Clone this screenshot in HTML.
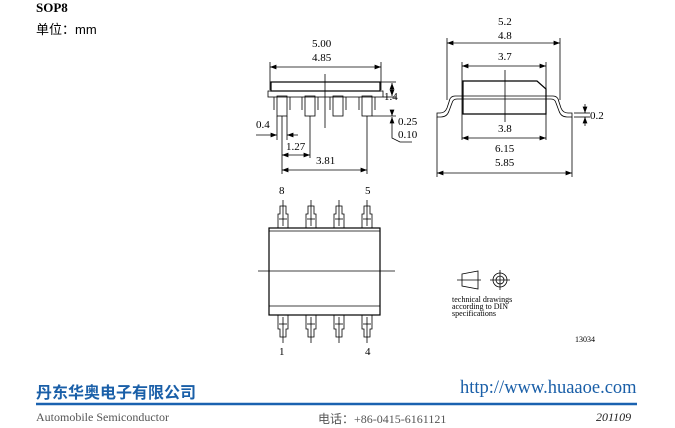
<!DOCTYPE html>
<html><head><meta charset="utf-8"><style>
body{margin:0;background:#fff;width:675px;height:428px;overflow:hidden;position:relative;font-family:"Liberation Serif","Noto Serif CJK SC",serif}
.t{position:absolute;white-space:nowrap}
</style></head><body>
<div class="t" style="left:36px;top:0px;font-size:13px;font-weight:bold">SOP8</div>
<div class="t" style="left:36px;top:19px;font-size:13px;font-family:'Liberation Sans','Noto Sans CJK SC',sans-serif">单位：mm</div>
<svg width="675" height="428" style="position:absolute;left:0;top:0" font-family="Liberation Serif, serif" font-size="11" fill="none" stroke="#000" stroke-width="1">
<defs><marker id="a" markerWidth="8" markerHeight="6" refX="8" refY="3" orient="auto-start-reverse"><path d="M0,0 L8,3 L0,6z" fill="#000" stroke="none"/></marker></defs>
<g stroke-width="0.8">
<line x1="270" y1="62" x2="270" y2="90"/><line x1="381" y1="62" x2="381" y2="90"/>
<line x1="270" y1="67" x2="381" y2="67" marker-start="url(#a)" marker-end="url(#a)"/>
<rect x="271" y="82" width="109" height="9" stroke-width="1.2"/>
<rect x="268" y="91" width="115" height="6"/>
<g id="ld"><rect x="277" y="96" width="10" height="20"/><line x1="274" y1="97" x2="274" y2="110"/><line x1="290" y1="97" x2="290" y2="110"/></g>
<use href="#ld" x="28"/><use href="#ld" x="56"/><use href="#ld" x="85"/>
<line x1="325" y1="74" x2="325" y2="128"/>
<line x1="380" y1="82" x2="396" y2="82"/><line x1="383" y1="97" x2="396" y2="97"/>
<line x1="392" y1="83" x2="392" y2="96" marker-start="url(#a)" marker-end="url(#a)"/>
<line x1="372" y1="116" x2="396" y2="116"/>
<line x1="392" y1="111" x2="392" y2="116" marker-end="url(#a)"/><line x1="392" y1="122" x2="392" y2="117" marker-end="url(#a)"/>
<polyline points="392,122 392,138 400,142 412,142"/>
<line x1="277" y1="116" x2="277" y2="140"/><line x1="287" y1="116" x2="287" y2="140"/>
<line x1="256" y1="135" x2="277" y2="135" marker-end="url(#a)"/><line x1="298" y1="135" x2="287" y2="135" marker-end="url(#a)"/>
<line x1="282" y1="116" x2="282" y2="174"/><line x1="310" y1="116" x2="310" y2="158"/><line x1="367" y1="116" x2="367" y2="174"/>
<line x1="282" y1="155" x2="310" y2="155" marker-start="url(#a)" marker-end="url(#a)"/>
<line x1="282" y1="170" x2="367" y2="170" marker-start="url(#a)" marker-end="url(#a)"/>
</g>
<g fill="#000" stroke="none" font-size="11">
<text x="312" y="47">5.00</text><text x="312" y="61">4.85</text>
<text x="384" y="100">1.4</text><text x="398" y="125">0.25</text><text x="398" y="138">0.10</text>
<text x="256" y="128">0.4</text><text x="286" y="150">1.27</text><text x="316" y="164">3.81</text>
</g>
<g stroke-width="0.8">
<line x1="447" y1="38" x2="447" y2="100"/><line x1="560" y1="38" x2="560" y2="100"/>
<line x1="447" y1="43" x2="560" y2="43" marker-start="url(#a)" marker-end="url(#a)"/>
<line x1="462" y1="62" x2="462" y2="140"/><line x1="546" y1="62" x2="546" y2="140"/>
<line x1="462" y1="66" x2="546" y2="66" marker-start="url(#a)" marker-end="url(#a)"/>
<path d="M463,81 L537,81 L546,89 L546,114 L463,114 Z" stroke-width="1.2"/>
<line x1="462" y1="96" x2="546" y2="96"/><line x1="462" y1="99" x2="546" y2="99"/>
<path d="M462,96 L455,96 Q450,96 449,102 L447,108 Q445,113 440,113 L437,113 L437,117 L441,117 Q447,117 449,111 L452,103 Q453,99 457,99 L462,99"/>
<path d="M546,96 L553,96 Q558,96 559,102 L561,108 Q563,113 568,113 L572,113 L572,117 L567,117 Q561,117 559,111 L556,103 Q555,99 551,99 L546,99"/>
<line x1="505" y1="70" x2="505" y2="122"/>
<line x1="462" y1="138" x2="546" y2="138" marker-start="url(#a)" marker-end="url(#a)"/>
<line x1="437" y1="117" x2="437" y2="177"/><line x1="572" y1="117" x2="572" y2="177"/>
<line x1="437" y1="173" x2="572" y2="173" marker-start="url(#a)" marker-end="url(#a)"/>
<line x1="574" y1="113" x2="590" y2="113"/><line x1="574" y1="117" x2="590" y2="117"/>
<line x1="585" y1="104" x2="585" y2="113" marker-end="url(#a)"/><line x1="585" y1="126" x2="585" y2="117" marker-end="url(#a)"/>
</g>
<g fill="#000" stroke="none">
<text x="498" y="25">5.2</text><text x="498" y="39">4.8</text><text x="498" y="60">3.7</text>
<text x="498" y="132">3.8</text><text x="495" y="152">6.15</text><text x="495" y="166">5.85</text>
<text x="590" y="119">0.2</text>
</g>
<g stroke-width="0.8">
<rect x="269" y="228" width="111" height="87" stroke-width="1.2"/>
<line x1="269" y1="231" x2="380" y2="231"/><line x1="269" y1="306" x2="380" y2="306"/>
<g id="tl"><path d="M278,228 L278,214 L280,214 L280,206 L286,206 L286,214 L288,214 L288,228"/><line x1="283" y1="200" x2="283" y2="226"/><line x1="279" y1="219" x2="287" y2="219"/></g>
<use href="#tl" x="28"/><use href="#tl" x="56"/><use href="#tl" x="84"/>
<g id="bl"><path d="M278,315 L278,329 L280,329 L280,337 L286,337 L286,329 L288,329 L288,315"/><line x1="283" y1="317" x2="283" y2="343"/><line x1="279" y1="324" x2="287" y2="324"/></g>
<use href="#bl" x="28"/><use href="#bl" x="56"/><use href="#bl" x="84"/>
<line x1="258" y1="271" x2="395" y2="271"/>
</g>
<g fill="#000" stroke="none"><text x="279" y="194">8</text><text x="365" y="194">5</text><text x="279" y="355">1</text><text x="365" y="355">4</text></g>
<g stroke-width="0.8">
<path d="M462,274 L478,271 L478,289 L462,286 Z"/><line x1="457" y1="280" x2="481" y2="280"/>
<circle cx="500" cy="280" r="7"/><circle cx="500" cy="280" r="4"/>
<line x1="490" y1="280" x2="510" y2="280"/><line x1="500" y1="270" x2="500" y2="290"/>
</g>
<g fill="#000" stroke="none" font-size="8"><text x="452" y="302">technical drawings</text><text x="452" y="309">according to DIN</text><text x="452" y="316">specifications</text><text x="575" y="342">13034</text></g>
<line x1="36" y1="404" x2="637" y2="404" stroke="#1a62b0" stroke-width="2.5"/>
</svg>
<div class="t" style="left:36px;top:379px;font-size:16px;font-weight:bold;color:#1a5fa8;font-family:'Liberation Sans','Noto Sans CJK SC',sans-serif">丹东华奥电子有限公司</div>
<div class="t" style="left:460px;top:378px;font-size:18.5px;color:#1a5fa8">http://www.huaaoe.com</div>
<div class="t" style="left:36px;top:410px;font-size:12px;color:#555">Automobile Semiconductor</div>
<div class="t" style="left:318px;top:410px;font-size:12px;color:#555;font-family:'Liberation Serif','Noto Sans CJK SC',serif">电话：+86-0415-6161121</div>
<div class="t" style="left:596px;top:410px;font-size:12px;font-style:italic;color:#222">201109</div>
</body></html>
